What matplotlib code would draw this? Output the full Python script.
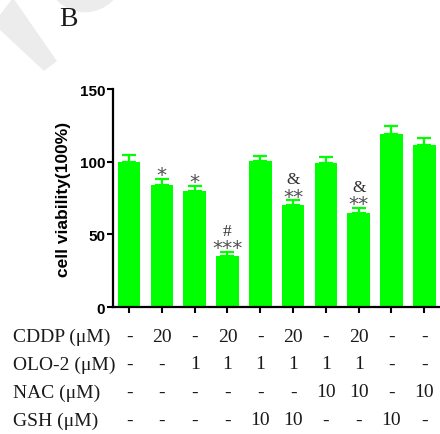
import matplotlib
matplotlib.use('Agg')
import matplotlib.pyplot as plt
from matplotlib.patches import Polygon, Circle
from matplotlib.transforms import blended_transform_factory

# ---- data ----
viability = [100, 84, 79.5, 35, 100.7, 70, 99, 65, 119, 111.5]
errors = [4.4, 4.4, 4.0, 3.0, 3.3, 3.5, 3.9, 3.4, 5.7, 5.0]
stars = ['', '*', '*', '***', '', '**', '', '**', '', '']
marks = ['', '', '', '#', '', '&', '', '&', '', '']
row_labels = ['CDDP (\u03bcM)', 'OLO-2 (\u03bcM)', 'NAC (\u03bcM)', 'GSH (\u03bcM)']
cddp = ['-', '20', '-', '20', '-', '20', '-', '20', '-', '-']
olo2 = ['-', '-', '1', '1', '1', '1', '1', '1', '-', '-']
nac = ['-', '-', '-', '-', '-', '-', '10', '10', '-', '10']
gsh = ['-', '-', '-', '-', '10', '10', '-', '-', '10', '-']
table_rows = [cddp, olo2, nac, gsh]
y_ticks = [0, 50, 100, 150]
y_label = 'cell viability(100%)'
panel = 'B'

W, H = 440, 435
fig = plt.figure(figsize=(W / 100, H / 100), dpi=100)

# faint watermark shapes
wm = '#ececec'
fig.patches.append(Polygon([(0 / W, 1 - 17 / H), (13 / W, 1 - 0 / H), (56 / W, 1 - 62 / H),
                            (44 / W, 1 - 71 / H), (0 / W, 1 - 30 / H)],
                           closed=True, transform=fig.transFigure, color=wm, zorder=0))
fig.patches.append(Circle((85 / W, 1 + 25 / H), 38 / W, transform=fig.transFigure,
                          color=wm, zorder=0))

ax = fig.add_axes([112.7 / W, 1 - 308 / H, (W - 112.7) / W, (308 - 90) / H])
green = '#00ff00'
x = list(range(len(viability)))
ax.bar(x, viability, width=0.69, color=green, zorder=2)
ax.errorbar(x, viability, yerr=[[0] * len(errors), errors], fmt='none', ecolor=green,
            elinewidth=1.6, capsize=5, capthick=1.6, zorder=3)

ax.set_xlim(-0.5, 9.48)
ax.set_ylim(0, 150)
ax.set_yticks(y_ticks)
ax.set_xticks(x)
ax.set_xticklabels([])
for s in ['top', 'right']:
    ax.spines[s].set_visible(False)
for s in ['left', 'bottom']:
    ax.spines[s].set_linewidth(1.6)
ax.tick_params(axis='both', length=4.5, width=1.5, direction='out', pad=1)
for lab in ax.get_yticklabels():
    lab.set_fontfamily('Liberation Sans')
    lab.set_fontweight('bold')
    lab.set_fontsize(11)
ax.set_ylabel(y_label, fontfamily='Liberation Sans', fontweight='bold', fontsize=12.5,
              labelpad=6)

for i, (v, e) in enumerate(zip(viability, errors)):
    if stars[i]:
        ax.annotate(stars[i], (i, v + e), xytext=(0, -1.0), textcoords='offset points',
                    ha='center', va='baseline', fontsize=14.5, color='#505050',
                    fontfamily='DejaVu Sans')
    if marks[i]:
        ax.annotate(marks[i], (i, v + e), xytext=(0, 12.2), textcoords='offset points',
                    ha='center', va='baseline', fontsize=12.5, color='#333333',
                    fontfamily='Liberation Serif')

# condition table below the axis
trans = blended_transform_factory(ax.transData, fig.transFigure)
row_y = [337, 365, 393, 421]
for lab, vals, yp in zip(row_labels, table_rows, row_y):
    fig.text(13 / W, 1 - yp / H, lab, ha='left', va='center', fontsize=14,
             fontfamily='Liberation Serif', color='#1a1a1a')
    for i, val in enumerate(vals):
        ax.text(i, 1 - yp / H, val, transform=trans, ha='center', va='center',
                fontsize=14, fontfamily='Liberation Serif', color='#1a1a1a',
                clip_on=False)

fig.text(68 / W, 1 - 20 / H, panel, ha='center', va='center', fontsize=20,
         fontfamily='Liberation Serif', color='#1a1a1a')

fig.savefig('out.png', dpi=100)
